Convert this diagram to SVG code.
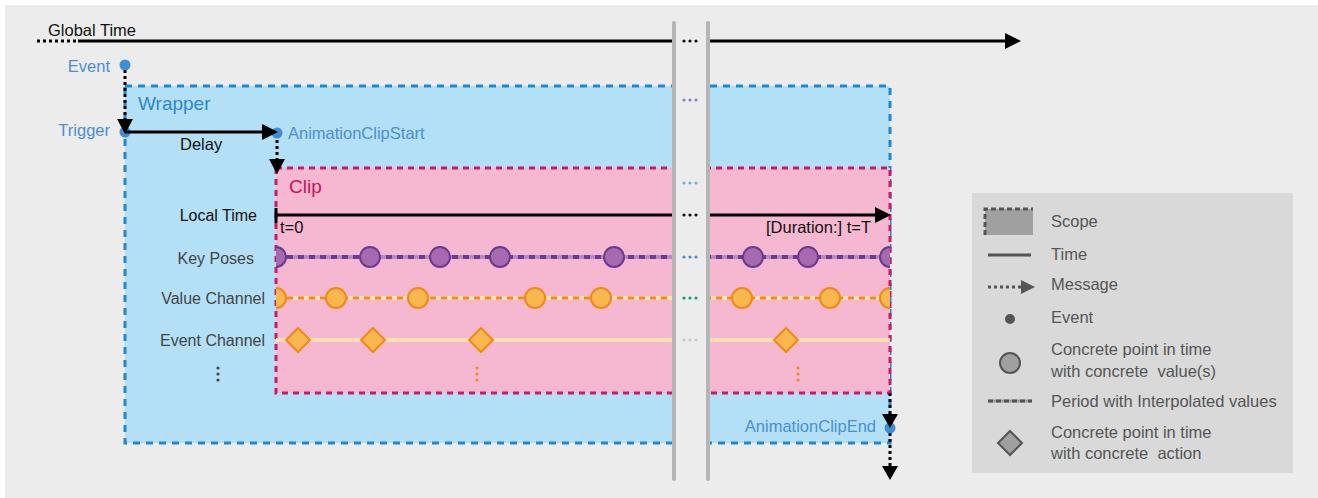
<svg xmlns="http://www.w3.org/2000/svg" width="1318" height="498" viewBox="0 0 1318 498">
  <defs>
    <style>
      text { font-family: "Liberation Sans", Arial, sans-serif; font-size: 16.5px; }
      .dark { fill: #333333; }
      .blue { fill: #4a8fd4; }
      .legend { fill: #555555; }
      .msg { stroke: #000; stroke-width: 3; stroke-dasharray: 3 3; fill: none; }
      .time { stroke: #000; stroke-width: 3; fill: none; }
      .head { fill: #000; }
      .pose { fill: #a66ab0; stroke: #6a3a90; stroke-width: 2; }
      .val { fill: #f8b74f; stroke: #f08a12; stroke-width: 2; }
      .act { fill: #f8b74f; stroke: #f08a12; stroke-width: 2; }
      .bar { stroke: #b5b5b5; stroke-width: 4; stroke-linecap: round; }
    </style>
    <clipPath id="clipArea">
      <rect x="276" y="168" width="614" height="225"/>
    </clipPath>
    <g id="dots3">
      <circle cx="-6" cy="0" r="1.6"/>
      <circle cx="0" cy="0" r="1.6"/>
      <circle cx="6" cy="0" r="1.6"/>
    </g>
  </defs>

  <!-- panel -->
  <rect x="0" y="0" width="1318" height="498" fill="#ffffff"/>
  <rect x="5" y="5" width="1313" height="493" fill="#ececec"/>

  <!-- wrapper scope -->
  <g id="wrapper">
    <rect x="125" y="86" width="765" height="357" fill="#b3e0f7" stroke="#1f88d2" stroke-width="3" stroke-dasharray="7 6"/>
    <text x="138" y="110" style="font-size:19px" fill="#2a88d0">Wrapper</text>
  </g>

  <!-- clip scope -->
  <g id="clip">
    <rect x="276" y="168" width="614" height="225" fill="#f5b8d0" stroke="#cc1a64" stroke-width="3" stroke-dasharray="6 5"/>
    <text x="289" y="193" style="font-size:19px" fill="#c8145a">Clip</text>
  </g>

  <!-- row labels -->
  <g id="row-labels" class="dark" style="font-size:16px">
    <text x="257" y="221" text-anchor="end" fill="#111" style="font-size:16px">Local Time</text>
    <text x="254" y="264" text-anchor="end" fill="#444" style="font-size:16px">Key Poses</text>
    <text x="265" y="304" text-anchor="end" fill="#444" style="font-size:16px">Value Channel</text>
    <text x="265" y="346" text-anchor="end" fill="#444" style="font-size:16px">Event Channel</text>
    <g fill="#444">
      <circle cx="218" cy="368" r="1.6"/>
      <circle cx="218" cy="374" r="1.6"/>
      <circle cx="218" cy="380" r="1.6"/>
    </g>
  </g>

  <!-- local time -->
  <g id="local-time">
    <line x1="276" y1="215" x2="877" y2="215" class="time"/>
    <line x1="276" y1="208" x2="276" y2="223" stroke="#000" stroke-width="3"/>
    <polygon points="875,207 891,215 875,223" class="head"/>
    <text x="280" y="233" fill="#111">t=0</text>
    <text x="871" y="233" text-anchor="end" fill="#111">[Duration:] t=T</text>
  </g>

  <!-- channel rows -->
  <g id="key-poses" clip-path="url(#clipArea)">
    <line x1="276" y1="257" x2="890" y2="257" stroke="#b48cc4" stroke-width="4"/>
    <line x1="276" y1="257" x2="890" y2="257" stroke="#6c3c95" stroke-width="4" stroke-dasharray="6 5"/>
    <circle cx="276" cy="257" r="10" class="pose"/>
    <circle cx="370" cy="257" r="10" class="pose"/>
    <circle cx="440" cy="257" r="10" class="pose"/>
    <circle cx="500" cy="257" r="10" class="pose"/>
    <circle cx="614" cy="257" r="10" class="pose"/>
    <circle cx="753" cy="257" r="10" class="pose"/>
    <circle cx="808" cy="257" r="10" class="pose"/>
    <circle cx="890" cy="257" r="10" class="pose"/>
  </g>

  <g id="value-channel" clip-path="url(#clipArea)">
    <line x1="276" y1="298" x2="890" y2="298" stroke="#fde0b2" stroke-width="4"/>
    <line x1="276" y1="298" x2="890" y2="298" stroke="#f08a1a" stroke-width="3" stroke-dasharray="6 5"/>
    <circle cx="276" cy="298" r="10" class="val"/>
    <circle cx="336" cy="298" r="10" class="val"/>
    <circle cx="418" cy="298" r="10" class="val"/>
    <circle cx="535" cy="298" r="10" class="val"/>
    <circle cx="601" cy="298" r="10" class="val"/>
    <circle cx="742" cy="298" r="10" class="val"/>
    <circle cx="830" cy="298" r="10" class="val"/>
    <circle cx="890" cy="298" r="10" class="val"/>
  </g>

  <g id="event-channel" clip-path="url(#clipArea)">
    <line x1="276" y1="340" x2="890" y2="340" stroke="#fde0b2" stroke-width="4"/>
    <polygon points="298,328 310,340 298,352 286,340" class="act"/>
    <polygon points="373,328 385,340 373,352 361,340" class="act"/>
    <polygon points="481,328 493,340 481,352 469,340" class="act"/>
    <polygon points="786,328 798,340 786,352 774,340" class="act"/>
    <g fill="#f08a1a">
      <circle cx="477" cy="368" r="1.6"/>
      <circle cx="477" cy="374" r="1.6"/>
      <circle cx="477" cy="380" r="1.6"/>
      <circle cx="798" cy="368" r="1.6"/>
      <circle cx="798" cy="374" r="1.6"/>
      <circle cx="798" cy="380" r="1.6"/>
    </g>
  </g>

  <!-- global time axis -->
  <g id="global-time">
    <line x1="37" y1="41" x2="78" y2="41" stroke="#000" stroke-width="3" stroke-dasharray="3 3"/>
    <line x1="78" y1="41" x2="1007" y2="41" class="time"/>
    <polygon points="1005,33 1021,41 1005,49" class="head"/>
    <text x="48" y="36" fill="#111">Global Time</text>
  </g>

  <!-- events and messages -->
  <g id="event">
    <circle cx="125" cy="65" r="5.5" fill="#3d8fd4"/>
    <text x="110" y="72" text-anchor="end" class="blue">Event</text>
  </g>
  <g id="trigger">
    <circle cx="125" cy="132" r="5.5" fill="#3d8fd4"/>
    <text x="110" y="136" text-anchor="end" class="blue">Trigger</text>
  </g>
  <g id="clip-start">
    <circle cx="277" cy="133" r="5.5" fill="#3d8fd4"/>
    <text x="288" y="139" class="blue">AnimationClipStart</text>
  </g>
  <g id="clip-end">
    <circle cx="890" cy="428" r="5.5" fill="#3d8fd4"/>
    <text x="876" y="432" text-anchor="end" class="blue">AnimationClipEnd</text>
  </g>

  <g id="connectors">
    <!-- event to trigger -->
    <line x1="125" y1="70" x2="125" y2="121" class="msg"/>
    <polygon points="117,119 133,119 125,134" class="head"/>
    <!-- delay -->
    <line x1="125" y1="132" x2="263" y2="132" class="time"/>
    <polygon points="262,124 278,132 262,140" class="head"/>
    <text x="180" y="150" fill="#111">Delay</text>
    <!-- clip start message -->
    <line x1="277" y1="140" x2="277" y2="161" class="msg"/>
    <polygon points="269,159 285,159 277,174" class="head"/>
    <!-- clip end messages -->
    <line x1="890" y1="393" x2="890" y2="416" class="msg"/>
    <polygon points="882,414 898,414 890,428" class="head"/>
    <line x1="890" y1="433" x2="890" y2="468" class="msg"/>
    <polygon points="882,466 898,466 890,480" class="head"/>
  </g>

  <!-- timeline break -->
  <g id="break">
    <rect x="676" y="20" width="30" height="462" fill="#ececec"/>
    <use href="#dots3" x="690" y="41" fill="#111"/>
    <use href="#dots3" x="690" y="100" fill="#8a80c8"/>
    <use href="#dots3" x="690" y="183" fill="#6ab4ea"/>
    <use href="#dots3" x="690" y="215" fill="#111"/>
    <use href="#dots3" x="690" y="257" fill="#3a92dc"/>
    <use href="#dots3" x="690" y="298" fill="#1a9a8a"/>
    <use href="#dots3" x="690" y="340" fill="#c8c8c8"/>
    <line x1="674" y1="23" x2="674" y2="479" class="bar"/>
    <line x1="708" y1="23" x2="708" y2="479" class="bar"/>
  </g>

  <!-- legend -->
  <g id="legend">
    <rect x="972" y="193" width="321" height="280" fill="#d9d9d9"/>
    <rect x="985" y="209" width="48" height="26" fill="#a0a0a0"/>
    <polyline points="985,235 985,209 1033,209" fill="none" stroke="#555" stroke-width="3" stroke-dasharray="5 3"/>
    <text x="1051" y="227" class="legend">Scope</text>

    <line x1="988" y1="255" x2="1031" y2="255" stroke="#555" stroke-width="3"/>
    <text x="1051" y="260" class="legend">Time</text>

    <line x1="988" y1="287" x2="1022" y2="287" stroke="#555" stroke-width="3" stroke-dasharray="3 3"/>
    <polygon points="1021,280 1035,287 1021,294" fill="#555"/>
    <text x="1051" y="290" class="legend">Message</text>

    <circle cx="1010" cy="319" r="5" fill="#555"/>
    <text x="1051" y="323" class="legend">Event</text>

    <circle cx="1010" cy="363" r="10" fill="#a0a0a0" stroke="#555" stroke-width="2"/>
    <text x="1051" y="355" class="legend">Concrete point in time</text>
    <text x="1051" y="377" class="legend" xml:space="preserve">with concrete  value(s)</text>

    <line x1="988" y1="401" x2="1032" y2="401" stroke="#a0a0a0" stroke-width="3"/>
    <line x1="988" y1="401" x2="1032" y2="401" stroke="#555" stroke-width="3" stroke-dasharray="5 3"/>
    <text x="1051" y="407" class="legend">Period with Interpolated values</text>

    <polygon points="1010,431 1022,443 1010,455 998,443" fill="#a0a0a0" stroke="#555" stroke-width="2"/>
    <text x="1051" y="438" class="legend">Concrete point in time</text>
    <text x="1051" y="459" class="legend" xml:space="preserve">with concrete  action</text>
  </g>
</svg>
